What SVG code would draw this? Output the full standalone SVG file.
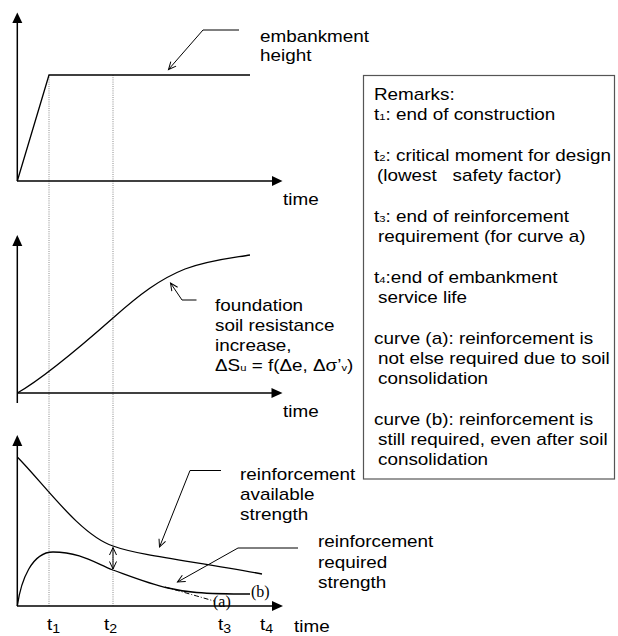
<svg xmlns="http://www.w3.org/2000/svg" width="618" height="636" viewBox="0 0 618 636">
<style>
.t{font-family:"Liberation Sans",Arial,sans-serif;font-size:16px;fill:#000}
.sr{font-family:"Liberation Serif","Times New Roman",serif;font-size:16px;fill:#000}
.sb{font-size:9.5px}
.sl{font-size:12px}
.ax{stroke:#000;stroke-width:1.5;fill:none}
.cv{stroke:#000;stroke-width:1.3;fill:none}
.ld{stroke:#000;stroke-width:1;fill:none;marker-end:url(#ar)}
.dot{stroke:#8a8a8a;stroke-width:1;stroke-dasharray:1,1.2;fill:none}
</style>
<defs>
<marker id="ar" markerWidth="10" markerHeight="10" refX="8.5" refY="5" orient="auto" markerUnits="userSpaceOnUse">
<path d="M1,1.5 L8.5,5 L1,8.5" fill="none" stroke="#000" stroke-width="1"/>
</marker>
<marker id="ar2" markerWidth="10" markerHeight="10" refX="8.5" refY="5" orient="auto-start-reverse" markerUnits="userSpaceOnUse">
<path d="M1,1.5 L8.5,5 L1,8.5" fill="none" stroke="#000" stroke-width="1"/>
</marker>
</defs>
<rect width="618" height="636" fill="#fff"/>

<g id="time-markers">
<line class="dot" x1="49" y1="75" x2="49" y2="606"/>
<line class="dot" x1="113" y1="75" x2="113" y2="606"/>
</g>

<g id="panel-height">
<line class="ax" x1="17.3" y1="181" x2="17.3" y2="22"/>
<polygon points="17.3,12.5 12.3,23 22.3,23"/>
<line class="ax" x1="17" y1="181" x2="273" y2="181"/>
<polygon points="282.5,181 272,176 272,186"/>
<path class="cv" d="M17.3,181 L49,75 L250,75"/>
<text class="t" transform="translate(283,205) scale(1.18,1)">time</text>
<text class="t" transform="translate(260,41.5) scale(1.18,1)">embankment</text>
<text class="t" transform="translate(260,61) scale(1.18,1)">height</text>
</g>

<g id="panel-resistance">
<line class="ax" x1="17.3" y1="403" x2="17.3" y2="245"/>
<polygon points="17.3,235 12.3,246 22.3,246"/>
<line class="ax" x1="17" y1="393" x2="272" y2="393"/>
<polygon points="282.5,393 271.5,388 271.5,398"/>
<path class="cv" d="M17.3,393 C35,383 62,363 113,318 C140,294 160,279 185,269 C210,260 232,258 250,255"/>
<text class="t" transform="translate(283,417) scale(1.18,1)">time</text>
<text class="t" transform="translate(215,310.5) scale(1.18,1)">foundation</text>
<text class="t" transform="translate(215,330.5) scale(1.18,1)">soil resistance</text>
<text class="t" transform="translate(215,350.5) scale(1.18,1)">increase,</text>
<text class="t" transform="translate(215,370.5) scale(1.18,1)">ΔS<tspan class="sb">u</tspan> = f(Δe, Δσ’<tspan class="sb">v</tspan>)</text>
</g>

<g id="panel-reinforcement">
<line class="ax" x1="17.3" y1="606" x2="17.3" y2="446"/>
<polygon points="17.3,435 12.3,446 22.3,446"/>
<line class="ax" x1="17" y1="606" x2="273" y2="606"/>
<polygon points="283,606 272,601 272,611"/>
<path class="cv" d="M17.3,457 C45,485 80,535 113,546 C140,556 200,562 262,574"/>
<path class="cv" d="M17.3,606 C21,580 32,552 53,552 C80,552 95,563 113,570 C135,578 150,584 168,588 C185,592 200,594 250,594"/>
<path d="M165,587 Q190,594 214,601" fill="none" stroke="#000" stroke-width="1" stroke-dasharray="5,2,1,2"/>
<line x1="113" y1="547.5" x2="113" y2="569" stroke="#000" stroke-width="1" marker-start="url(#ar2)" marker-end="url(#ar2)"/>
<text class="sr" x="251" y="597">(b)</text>
<text class="sr" x="213" y="606.5">(a)</text>
<text class="t" transform="translate(47,629.5) scale(1.18,1)">t<tspan class="sl" dy="3.5">1</tspan></text>
<text class="t" transform="translate(104,629.5) scale(1.18,1)">t<tspan class="sl" dy="3.5">2</tspan></text>
<text class="t" transform="translate(218,629.5) scale(1.18,1)">t<tspan class="sl" dy="3.5">3</tspan></text>
<text class="t" transform="translate(260,629.5) scale(1.18,1)">t<tspan class="sl" dy="3.5">4</tspan></text>
<text class="t" transform="translate(294,632) scale(1.18,1)">time</text>
<text class="t" transform="translate(240,479.5) scale(1.18,1)">reinforcement</text>
<text class="t" transform="translate(240,500) scale(1.18,1)">available</text>
<text class="t" transform="translate(240,520) scale(1.18,1)">strength</text>
<text class="t" transform="translate(318,547) scale(1.18,1)">reinforcement</text>
<text class="t" transform="translate(318,567.5) scale(1.18,1)">required</text>
<text class="t" transform="translate(318,588) scale(1.18,1)">strength</text>
</g>

<g id="leaders">
<path class="ld" d="M239,30 L203,30 L168.5,69.5"/>
<path class="ld" d="M196.5,300 L182,300 L170.5,283"/>
<path class="ld" d="M221,470.5 L190,470.5 L159.5,547"/>
<path class="ld" d="M298,548 L238,548 L177.5,582"/>
</g>

<g id="remarks">
<rect x="363.5" y="75.5" width="251" height="403.5" fill="none" stroke="#555" stroke-width="1.2"/>
<text class="t" transform="translate(374,99.5) scale(1.18,1)">Remarks:</text>
<text class="t" transform="translate(374,120) scale(1.18,1)">t<tspan class="sb">1</tspan>: end of construction</text>
<text class="t" transform="translate(374,160.5) scale(1.18,1)">t<tspan class="sb">2</tspan>: critical moment for design</text>
<text class="t" xml:space="preserve" transform="translate(377,181) scale(1.18,1)">(lowest   safety factor)</text>
<text class="t" transform="translate(374,222) scale(1.18,1)">t<tspan class="sb">3</tspan>: end of reinforcement</text>
<text class="t" transform="translate(378,242) scale(1.18,1)">requirement (for curve a)</text>
<text class="t" transform="translate(374,283) scale(1.18,1)">t<tspan class="sb">4</tspan>:end of embankment</text>
<text class="t" transform="translate(378,303) scale(1.18,1)">service life</text>
<text class="t" transform="translate(374,343.5) scale(1.18,1)">curve (a): reinforcement is</text>
<text class="t" transform="translate(378,363.5) scale(1.18,1)">not else required due to soil</text>
<text class="t" transform="translate(378,383.5) scale(1.18,1)">consolidation</text>
<text class="t" transform="translate(374,424.5) scale(1.18,1)">curve (b): reinforcement is</text>
<text class="t" transform="translate(378,445) scale(1.18,1)">still required, even after soil</text>
<text class="t" transform="translate(378,465) scale(1.18,1)">consolidation</text>
</g>
</svg>
